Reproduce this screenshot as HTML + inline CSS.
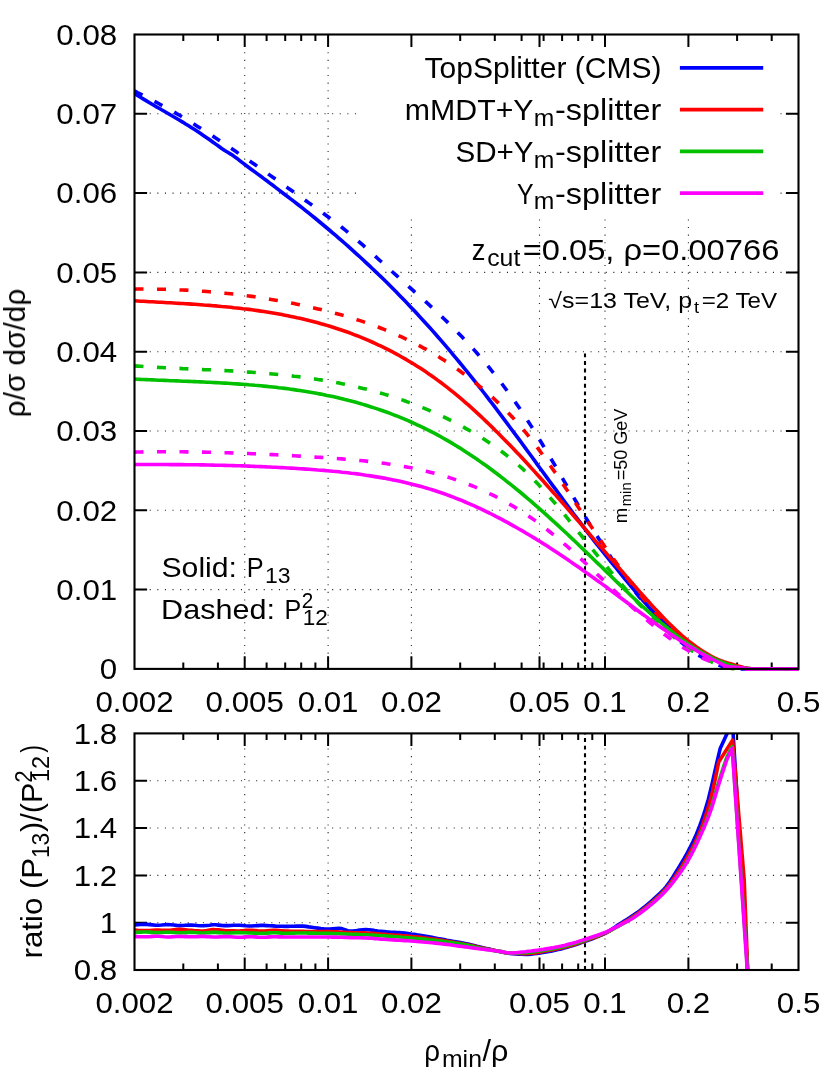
<!DOCTYPE html>
<html><head><meta charset="utf-8"><title>plot</title>
<style>html,body{margin:0;padding:0;background:#fff}svg{display:block}text{font-family:"Liberation Sans",sans-serif;fill:#000}</style></head><body>
<svg width="830" height="1076" viewBox="0 0 830 1076">
<rect width="830" height="1076" fill="#fff"/>
<defs><clipPath id="ct"><rect x="134.5" y="34.5" width="664" height="636.9"/></clipPath>
<clipPath id="cb"><rect x="134.5" y="733.4" width="664" height="236.6"/></clipPath></defs>
<g stroke="#000" stroke-width="1.1" stroke-dasharray="1.1 6.5" fill="none" shape-rendering="auto" opacity="0.85">
<path d="M244.7,668.9 V34.5"/>
<path d="M328.1,668.9 V34.5"/>
<path d="M411.4,668.9 V34.5"/>
<path d="M539.5,668.9 V34.5"/>
<path d="M605,668.9 V34.5"/>
<path d="M688.4,668.9 V34.5"/>
<path d="M134.5,589.6 H798.5"/>
<path d="M134.5,510.3 H798.5"/>
<path d="M134.5,431 H798.5"/>
<path d="M134.5,351.7 H798.5"/>
<path d="M134.5,272.4 H798.5"/>
<path d="M134.5,193.1 H798.5"/>
<path d="M134.5,113.8 H798.5"/>
<path d="M244.7,970 V733.4"/>
<path d="M328.1,970 V733.4"/>
<path d="M411.4,970 V733.4"/>
<path d="M539.5,970 V733.4"/>
<path d="M605,970 V733.4"/>
<path d="M688.4,970 V733.4"/>
<path d="M134.5,922.7 H798.5"/>
<path d="M134.5,875.4 H798.5"/>
<path d="M134.5,828 H798.5"/>
<path d="M134.5,780.7 H798.5"/>
</g>
<rect x="359" y="35.5" width="418" height="180.5" fill="#fff"/>
<g stroke="#000" stroke-width="2" fill="none">
<path d="M244.7,668.9 v-12.6 M244.7,34.5 v12.6 M328.1,668.9 v-12.6 M328.1,34.5 v12.6 M411.4,668.9 v-12.6 M411.4,34.5 v12.6 M539.5,668.9 v-12.6 M539.5,34.5 v12.6 M605,668.9 v-12.6 M605,34.5 v12.6 M688.4,668.9 v-12.6 M688.4,34.5 v12.6 M183.3,668.9 v-6.5 M183.3,34.5 v6.5 M217.9,668.9 v-6.5 M217.9,34.5 v6.5 M266.6,668.9 v-6.5 M266.6,34.5 v6.5 M285.2,668.9 v-6.5 M285.2,34.5 v6.5 M301.2,668.9 v-6.5 M301.2,34.5 v6.5 M315.4,668.9 v-6.5 M315.4,34.5 v6.5 M460.2,668.9 v-6.5 M460.2,34.5 v6.5 M494.8,668.9 v-6.5 M494.8,34.5 v6.5 M521.6,668.9 v-6.5 M521.6,34.5 v6.5 M543.6,668.9 v-6.5 M543.6,34.5 v6.5 M562.1,668.9 v-6.5 M562.1,34.5 v6.5 M578.2,668.9 v-6.5 M578.2,34.5 v6.5 M592.3,668.9 v-6.5 M592.3,34.5 v6.5 M737.1,668.9 v-6.5 M737.1,34.5 v6.5 M771.7,668.9 v-6.5 M771.7,34.5 v6.5 M134.5,589.6 h12.6 M798.5,589.6 h-12.6 M134.5,510.3 h12.6 M798.5,510.3 h-12.6 M134.5,431 h12.6 M798.5,431 h-12.6 M134.5,351.7 h12.6 M798.5,351.7 h-12.6 M134.5,272.4 h12.6 M798.5,272.4 h-12.6 M134.5,193.1 h12.6 M798.5,193.1 h-12.6 M134.5,113.8 h12.6 M798.5,113.8 h-12.6"/>
</g>
<g stroke="#000" stroke-width="2" fill="none">
<path d="M244.7,970 v-12.6 M244.7,733.4 v12.6 M328.1,970 v-12.6 M328.1,733.4 v12.6 M411.4,970 v-12.6 M411.4,733.4 v12.6 M539.5,970 v-12.6 M539.5,733.4 v12.6 M605,970 v-12.6 M605,733.4 v12.6 M688.4,970 v-12.6 M688.4,733.4 v12.6 M183.3,970 v-6.5 M183.3,733.4 v6.5 M217.9,970 v-6.5 M217.9,733.4 v6.5 M266.6,970 v-6.5 M266.6,733.4 v6.5 M285.2,970 v-6.5 M285.2,733.4 v6.5 M301.2,970 v-6.5 M301.2,733.4 v6.5 M315.4,970 v-6.5 M315.4,733.4 v6.5 M460.2,970 v-6.5 M460.2,733.4 v6.5 M494.8,970 v-6.5 M494.8,733.4 v6.5 M521.6,970 v-6.5 M521.6,733.4 v6.5 M543.6,970 v-6.5 M543.6,733.4 v6.5 M562.1,970 v-6.5 M562.1,733.4 v6.5 M578.2,970 v-6.5 M578.2,733.4 v6.5 M592.3,970 v-6.5 M592.3,733.4 v6.5 M737.1,970 v-6.5 M737.1,733.4 v6.5 M771.7,970 v-6.5 M771.7,733.4 v6.5 M134.5,922.7 h12.6 M798.5,922.7 h-12.6 M134.5,875.4 h12.6 M798.5,875.4 h-12.6 M134.5,828 h12.6 M798.5,828 h-12.6 M134.5,780.7 h12.6 M798.5,780.7 h-12.6"/>
</g>
<path d="M585,668.9 V352" stroke="#000" stroke-width="2.1" stroke-dasharray="3.9 3.7" fill="none"/>
<path d="M585,970 V733.4" stroke="#000" stroke-width="2.1" stroke-dasharray="3.9 3.7" fill="none"/>
<g fill="none" stroke-width="3.6" stroke-linejoin="round" clip-path="url(#ct)">
<path d="M134.5,93.7 L137.5,95.5 L140.5,97.3 L143.5,99.1 L146.5,100.9 L149.5,102.7 L152.5,104.5 L155.5,106.3 L158.6,108 L161.6,109.8 L164.6,111.5 L167.6,113.2 L170.6,115 L173.6,116.7 L176.6,118.5 L179.6,120.3 L182.6,122.1 L185.6,124 L188.6,125.8 L191.6,127.7 L194.6,129.6 L197.6,131.6 L200.6,133.6 L203.7,135.7 L206.7,137.7 L209.7,139.8 L212.7,142 L215.7,144.1 L218.7,146.3 L221.7,148.5 L224.7,150.5 L227.7,152.3 L230.7,154.1 L233.7,156.1 L236.7,158.2 L239.7,160.6 L242.7,162.9 L245.8,165.2 L248.8,167.5 L251.8,169.7 L254.8,171.9 L257.8,174.1 L260.8,176.3 L263.8,178.6 L266.8,180.8 L269.8,183.1 L272.8,185.3 L275.8,187.6 L278.8,189.9 L281.8,192.2 L284.8,194.5 L287.8,196.8 L290.9,199.1 L293.9,201.4 L296.9,203.7 L299.9,206 L302.9,208.4 L305.9,210.8 L308.9,213.2 L311.9,215.6 L314.9,218 L317.9,220.5 L320.9,223 L323.9,225.5 L326.9,228 L329.9,230.5 L332.9,233.1 L336,235.7 L339,238.3 L342,240.9 L345,243.5 L348,246.2 L351,248.9 L354,251.6 L357,254.3 L360,257 L363,259.8 L366,262.6 L369,265.4 L372,268.2 L375,271.1 L378,274 L381.1,276.9 L384.1,279.8 L387.1,282.8 L390.1,285.8 L393.1,288.8 L396.1,291.8 L399.1,294.9 L402.1,298 L405.1,301.1 L408.1,304.2 L411.1,307.4 L414.1,310.6 L417.1,313.8 L420.1,317.1 L423.2,320.4 L426.2,323.7 L429.2,327 L432.2,330.4 L435.2,333.8 L438.2,337.2 L441.2,340.7 L444.2,344.2 L447.2,347.7 L450.2,351.2 L453.2,354.8 L456.2,358.4 L459.2,362 L462.2,365.7 L465.2,369.3 L468.3,373.1 L471.3,376.8 L474.3,380.6 L477.3,384.4 L480.3,388.2 L483.3,392 L486.3,395.9 L489.3,399.8 L492.3,403.7 L495.3,407.7 L498.3,411.6 L501.3,415.6 L504.3,419.6 L507.3,423.6 L510.3,427.7 L513.4,431.8 L516.4,435.8 L519.4,439.9 L522.4,444 L525.4,448.1 L528.4,452.2 L531.4,456.3 L534.4,460.4 L537.4,464.6 L540.4,468.7 L543.4,472.8 L546.4,476.9 L549.4,481 L552.4,485.1 L555.5,489.2 L558.5,493.3 L561.5,497.4 L564.5,501.5 L567.5,505.6 L570.5,509.6 L573.5,513.7 L576.5,517.7 L579.5,521.7 L582.5,525.7 L585.5,529.6 L588.5,533.6 L591.5,537.5 L594.5,541.3 L597.5,545.2 L600.6,548.9 L603.6,552.7 L606.6,556.4 L609.6,560.1 L612.6,563.8 L615.6,567.4 L618.6,571.1 L621.6,574.8 L624.6,578.5 L627.6,582.2 L630.6,585.8 L633.6,589.4 L636.6,593 L639.6,596.5 L642.6,600 L645.7,603.5 L648.7,606.9 L651.7,610.1 L654.7,613.3 L657.7,616.4 L660.7,619.4 L663.7,622.4 L666.7,625.2 L669.7,628 L672.7,630.7 L675.7,633.3 L678.7,635.8 L681.7,638.2 L684.7,640.5 L687.7,642.8 L690.8,644.9 L693.8,647 L696.8,649 L699.8,650.9 L702.8,652.7 L705.8,654.4 L708.8,656 L711.8,657.6 L714.8,659.1 L717.8,660.4 L720.8,661.7 L723.8,662.9 L726.8,664.1 L729.8,665.1 L732.9,665.9 L735.9,666.7 L738.9,667.5 L741.9,668.1 L744.9,668.4 L747.9,668.5 L750.9,668.7 L753.9,668.8 L756.9,668.8 L759.9,668.8 L762.9,668.9 L765.9,668.9 L768.9,668.9 L771.9,668.9 L774.9,668.9 L778,668.9 L781,668.9 L784,668.9 L787,668.9 L790,668.9 L793,668.9 L796,668.9 L799,668.9" stroke="#0000ff"/>
<path d="M134.5,90.9 L137.5,92.5 L140.5,94 L143.5,95.6 L146.5,97.1 L149.5,98.7 L152.5,100.3 L155.5,101.9 L158.6,103.5 L161.6,105.2 L164.6,106.8 L167.6,108.5 L170.6,110.1 L173.6,111.8 L176.6,113.6 L179.6,115.3 L182.6,117.1 L185.6,118.9 L188.6,120.8 L191.6,122.6 L194.6,124.5 L197.6,126.4 L200.6,128.3 L203.7,130.2 L206.7,132.1 L209.7,134.1 L212.7,136.1 L215.7,138.1 L218.7,140 L221.7,142 L224.7,144 L227.7,146.1 L230.7,148.1 L233.7,150.1 L236.7,152.1 L239.7,154.2 L242.7,156.2 L245.8,158.3 L248.8,160.4 L251.8,162.5 L254.8,164.5 L257.8,166.6 L260.8,168.7 L263.8,170.8 L266.8,172.9 L269.8,175.1 L272.8,177.2 L275.8,179.3 L278.8,181.4 L281.8,183.6 L284.8,185.7 L287.8,187.9 L290.9,190 L293.9,192.2 L296.9,194.3 L299.9,196.4 L302.9,198.6 L305.9,200.8 L308.9,202.9 L311.9,205 L314.9,207.2 L317.9,209.4 L320.9,211.5 L323.9,213.7 L326.9,216 L329.9,218.2 L332.9,220.5 L336,222.8 L339,225.1 L342,227.5 L345,229.9 L348,232.3 L351,234.9 L354,237.4 L357,240 L360,242.6 L363,245.2 L366,247.9 L369,250.6 L372,253.3 L375,256 L378,258.8 L381.1,261.5 L384.1,264.3 L387.1,267 L390.1,269.8 L393.1,272.5 L396.1,275.2 L399.1,277.9 L402.1,280.6 L405.1,283.3 L408.1,286 L411.1,288.7 L414.1,291.4 L417.1,294 L420.1,296.7 L423.2,299.5 L426.2,302.2 L429.2,304.9 L432.2,307.7 L435.2,310.5 L438.2,313.3 L441.2,316.1 L444.2,319 L447.2,321.9 L450.2,324.9 L453.2,327.9 L456.2,330.9 L459.2,334 L462.2,337.1 L465.2,340.3 L468.3,343.5 L471.3,346.8 L474.3,350.1 L477.3,353.5 L480.3,357 L483.3,360.5 L486.3,364.1 L489.3,367.7 L492.3,371.5 L495.3,375.2 L498.3,379.1 L501.3,383 L504.3,387 L507.3,391.1 L510.3,395.2 L513.4,399.4 L516.4,403.7 L519.4,408.1 L522.4,412.6 L525.4,417.1 L528.4,421.7 L531.4,426.4 L534.4,431.2 L537.4,436.1 L540.4,441 L543.4,446 L546.4,451 L549.4,456.1 L552.4,461.2 L555.5,466.3 L558.5,471.5 L561.5,476.6 L564.5,481.8 L567.5,486.9 L570.5,492.1 L573.5,497.2 L576.5,502.2 L579.5,507.3 L582.5,512.3 L585.5,517.2 L588.5,522.2 L591.5,527 L594.5,531.9 L597.5,536.7 L600.6,541.4 L603.6,546.1 L606.6,550.7 L609.6,555.3 L612.6,559.7 L615.6,564.2 L618.6,568.5 L621.6,572.9 L624.6,577.1 L627.6,581.3 L630.6,585.5 L633.6,589.6 L636.6,593.6 L639.6,597.5 L642.6,601.3 L645.7,605 L648.7,608.6 L651.7,612.2 L654.7,615.7 L657.7,619.1 L660.7,622.4 L663.7,625.6 L666.7,628.7 L669.7,631.7 L672.7,634.6 L675.7,637.5 L678.7,640.2 L681.7,642.7 L684.7,645.2 L687.7,647.6 L690.8,649.9 L693.8,652 L696.8,654.1 L699.8,655.9 L702.8,657.6 L705.8,659.2 L708.8,660.7 L711.8,662.2 L714.8,663.5 L717.8,664.7 L720.8,665.9 L723.8,667 L726.8,667.8 L729.8,668.2 L732.9,668.5 L735.9,668.7 L738.9,668.8 L741.9,668.9 L744.9,668.9 L747.9,668.9 L750.9,668.9 L753.9,668.9 L756.9,668.9 L759.9,668.9 L762.9,668.9 L765.9,668.9 L768.9,668.9 L771.9,668.9 L774.9,668.9 L778,668.9 L781,668.9 L784,668.9 L787,668.9 L790,668.9 L793,668.9 L796,668.9 L799,668.9" stroke="#0000ff" stroke-dasharray="9 13.5"/>
<path d="M134.5,300.8 L137.5,301 L140.5,301.2 L143.5,301.3 L146.5,301.5 L149.5,301.7 L152.5,301.8 L155.5,302 L158.6,302.2 L161.6,302.3 L164.6,302.5 L167.6,302.7 L170.6,302.8 L173.6,303 L176.6,303.2 L179.6,303.4 L182.6,303.5 L185.6,303.7 L188.6,303.9 L191.6,304.1 L194.6,304.3 L197.6,304.5 L200.6,304.7 L203.7,305 L206.7,305.2 L209.7,305.4 L212.7,305.7 L215.7,305.9 L218.7,306.2 L221.7,306.5 L224.7,306.7 L227.7,307 L230.7,307.3 L233.7,307.7 L236.7,308 L239.7,308.3 L242.7,308.7 L245.8,309 L248.8,309.4 L251.8,309.8 L254.8,310.2 L257.8,310.6 L260.8,311.1 L263.8,311.5 L266.8,312 L269.8,312.5 L272.8,313 L275.8,313.5 L278.8,314 L281.8,314.6 L284.8,315.2 L287.8,315.8 L290.9,316.4 L293.9,317 L296.9,317.7 L299.9,318.3 L302.9,319 L305.9,319.7 L308.9,320.5 L311.9,321.2 L314.9,322 L317.9,322.8 L320.9,323.7 L323.9,324.5 L326.9,325.4 L329.9,326.3 L332.9,327.2 L336,328.2 L339,329.2 L342,330.2 L345,331.2 L348,332.3 L351,333.4 L354,334.6 L357,335.7 L360,336.9 L363,338.1 L366,339.4 L369,340.7 L372,342 L375,343.4 L378,344.8 L381.1,346.2 L384.1,347.6 L387.1,349.1 L390.1,350.7 L393.1,352.2 L396.1,353.9 L399.1,355.5 L402.1,357.2 L405.1,358.9 L408.1,360.7 L411.1,362.5 L414.1,364.3 L417.1,366.2 L420.1,368.1 L423.2,370.1 L426.2,372.1 L429.2,374.2 L432.2,376.2 L435.2,378.4 L438.2,380.6 L441.2,382.8 L444.2,385.1 L447.2,387.4 L450.2,389.8 L453.2,392.2 L456.2,394.7 L459.2,397.2 L462.2,399.7 L465.2,402.3 L468.3,404.9 L471.3,407.6 L474.3,410.3 L477.3,413.1 L480.3,415.9 L483.3,418.7 L486.3,421.6 L489.3,424.5 L492.3,427.4 L495.3,430.4 L498.3,433.3 L501.3,436.4 L504.3,439.4 L507.3,442.5 L510.3,445.6 L513.4,448.7 L516.4,451.9 L519.4,455.1 L522.4,458.3 L525.4,461.5 L528.4,464.8 L531.4,468.1 L534.4,471.4 L537.4,474.7 L540.4,478 L543.4,481.3 L546.4,484.7 L549.4,488.1 L552.4,491.5 L555.5,494.9 L558.5,498.3 L561.5,501.7 L564.5,505.1 L567.5,508.6 L570.5,512 L573.5,515.5 L576.5,519 L579.5,522.4 L582.5,525.9 L585.5,529.4 L588.5,532.8 L591.5,536.3 L594.5,539.8 L597.5,543.3 L600.6,546.7 L603.6,550.2 L606.6,553.7 L609.6,557.1 L612.6,560.6 L615.6,564 L618.6,567.5 L621.6,570.9 L624.6,574.4 L627.6,577.9 L630.6,581.3 L633.6,584.7 L636.6,588.2 L639.6,591.6 L642.6,595 L645.7,598.4 L648.7,601.8 L651.7,605.1 L654.7,608.4 L657.7,611.6 L660.7,614.8 L663.7,618 L666.7,621.1 L669.7,624 L672.7,626.9 L675.7,629.8 L678.7,632.6 L681.7,635.3 L684.7,637.8 L687.7,640.3 L690.8,642.7 L693.8,645 L696.8,647.2 L699.8,649.3 L702.8,651.2 L705.8,653.1 L708.8,654.9 L711.8,656.5 L714.8,658.1 L717.8,659.4 L720.8,660.6 L723.8,661.7 L726.8,662.6 L729.8,663.6 L732.9,664.5 L735.9,665.4 L738.9,666.3 L741.9,667.1 L744.9,667.9 L747.9,668.4 L750.9,668.6 L753.9,668.7 L756.9,668.8 L759.9,668.8 L762.9,668.9 L765.9,668.9 L768.9,668.9 L771.9,668.9 L774.9,668.9 L778,668.9 L781,668.9 L784,668.9 L787,668.9 L790,668.9 L793,668.9 L796,668.9 L799,668.9" stroke="#ff0000"/>
<path d="M134.5,289.1 L137.5,289 L140.5,289 L143.5,289 L146.5,289.1 L149.5,289.1 L152.5,289.1 L155.5,289.2 L158.6,289.2 L161.6,289.3 L164.6,289.3 L167.6,289.4 L170.6,289.5 L173.6,289.6 L176.6,289.7 L179.6,289.9 L182.6,290 L185.6,290.1 L188.6,290.3 L191.6,290.5 L194.6,290.7 L197.6,290.9 L200.6,291.1 L203.7,291.3 L206.7,291.5 L209.7,291.8 L212.7,292 L215.7,292.3 L218.7,292.6 L221.7,292.9 L224.7,293.2 L227.7,293.5 L230.7,293.8 L233.7,294.1 L236.7,294.5 L239.7,294.8 L242.7,295.2 L245.8,295.6 L248.8,296 L251.8,296.4 L254.8,296.8 L257.8,297.3 L260.8,297.7 L263.8,298.2 L266.8,298.7 L269.8,299.2 L272.8,299.7 L275.8,300.2 L278.8,300.7 L281.8,301.3 L284.8,301.8 L287.8,302.4 L290.9,303 L293.9,303.6 L296.9,304.2 L299.9,304.8 L302.9,305.5 L305.9,306.1 L308.9,306.8 L311.9,307.5 L314.9,308.2 L317.9,308.9 L320.9,309.6 L323.9,310.3 L326.9,311.1 L329.9,311.9 L332.9,312.6 L336,313.5 L339,314.3 L342,315.1 L345,316 L348,316.9 L351,317.8 L354,318.7 L357,319.7 L360,320.6 L363,321.6 L366,322.7 L369,323.7 L372,324.8 L375,325.9 L378,327 L381.1,328.2 L384.1,329.4 L387.1,330.6 L390.1,331.8 L393.1,333.1 L396.1,334.4 L399.1,335.8 L402.1,337.2 L405.1,338.6 L408.1,340 L411.1,341.5 L414.1,343 L417.1,344.6 L420.1,346.2 L423.2,347.8 L426.2,349.4 L429.2,351.1 L432.2,352.9 L435.2,354.7 L438.2,356.5 L441.2,358.4 L444.2,360.3 L447.2,362.2 L450.2,364.2 L453.2,366.3 L456.2,368.4 L459.2,370.5 L462.2,372.7 L465.2,374.9 L468.3,377.2 L471.3,379.5 L474.3,381.9 L477.3,384.3 L480.3,386.8 L483.3,389.3 L486.3,391.9 L489.3,394.5 L492.3,397.2 L495.3,400 L498.3,402.9 L501.3,405.8 L504.3,408.8 L507.3,411.9 L510.3,415 L513.4,418.3 L516.4,421.6 L519.4,425.1 L522.4,428.6 L525.4,432.2 L528.4,435.9 L531.4,439.8 L534.4,443.7 L537.4,447.7 L540.4,451.7 L543.4,455.9 L546.4,460.1 L549.4,464.4 L552.4,468.7 L555.5,473 L558.5,477.4 L561.5,481.9 L564.5,486.4 L567.5,490.8 L570.5,495.4 L573.5,499.9 L576.5,504.4 L579.5,509 L582.5,513.5 L585.5,518 L588.5,522.6 L591.5,527.1 L594.5,531.5 L597.5,536 L600.6,540.4 L603.6,544.8 L606.6,549.2 L609.6,553.5 L612.6,557.7 L615.6,561.9 L618.6,566.1 L621.6,570.2 L624.6,574.3 L627.6,578.3 L630.6,582.3 L633.6,586.2 L636.6,590 L639.6,593.8 L642.6,597.5 L645.7,601.2 L648.7,604.8 L651.7,608.3 L654.7,611.7 L657.7,615.1 L660.7,618.4 L663.7,621.6 L666.7,624.8 L669.7,627.8 L672.7,630.8 L675.7,633.7 L678.7,636.5 L681.7,639.2 L684.7,641.8 L687.7,644.4 L690.8,646.8 L693.8,649.1 L696.8,651.4 L699.8,653.5 L702.8,655.6 L705.8,657.5 L708.8,659.3 L711.8,661.1 L714.8,662.8 L717.8,664.3 L720.8,665.5 L723.8,666.6 L726.8,667.6 L729.8,668.2 L732.9,668.4 L735.9,668.7 L738.9,668.8 L741.9,668.8 L744.9,668.9 L747.9,668.9 L750.9,668.9 L753.9,668.9 L756.9,668.9 L759.9,668.9 L762.9,668.9 L765.9,668.9 L768.9,668.9 L771.9,668.9 L774.9,668.9 L778,668.9 L781,668.9 L784,668.9 L787,668.9 L790,668.9 L793,668.9 L796,668.9 L799,668.9" stroke="#ff0000" stroke-dasharray="9 13.5"/>
<path d="M134.5,379 L137.5,379.2 L140.5,379.4 L143.5,379.5 L146.5,379.6 L149.5,379.8 L152.5,379.9 L155.5,380 L158.6,380.2 L161.6,380.3 L164.6,380.4 L167.6,380.5 L170.6,380.7 L173.6,380.8 L176.6,380.9 L179.6,381 L182.6,381.2 L185.6,381.3 L188.6,381.4 L191.6,381.5 L194.6,381.6 L197.6,381.8 L200.6,381.9 L203.7,382 L206.7,382.2 L209.7,382.3 L212.7,382.5 L215.7,382.6 L218.7,382.8 L221.7,383 L224.7,383.1 L227.7,383.3 L230.7,383.5 L233.7,383.7 L236.7,383.9 L239.7,384.1 L242.7,384.3 L245.8,384.5 L248.8,384.8 L251.8,385 L254.8,385.3 L257.8,385.5 L260.8,385.8 L263.8,386.1 L266.8,386.4 L269.8,386.7 L272.8,387 L275.8,387.3 L278.8,387.7 L281.8,388 L284.8,388.4 L287.8,388.8 L290.9,389.2 L293.9,389.6 L296.9,390.1 L299.9,390.5 L302.9,391 L305.9,391.5 L308.9,392 L311.9,392.5 L314.9,393 L317.9,393.6 L320.9,394.1 L323.9,394.7 L326.9,395.4 L329.9,396 L332.9,396.6 L336,397.3 L339,398 L342,398.7 L345,399.5 L348,400.2 L351,401 L354,401.8 L357,402.6 L360,403.5 L363,404.4 L366,405.3 L369,406.2 L372,407.2 L375,408.1 L378,409.1 L381.1,410.2 L384.1,411.2 L387.1,412.3 L390.1,413.4 L393.1,414.6 L396.1,415.7 L399.1,416.9 L402.1,418.2 L405.1,419.4 L408.1,420.7 L411.1,422 L414.1,423.4 L417.1,424.8 L420.1,426.2 L423.2,427.6 L426.2,429.1 L429.2,430.6 L432.2,432.2 L435.2,433.7 L438.2,435.3 L441.2,437 L444.2,438.7 L447.2,440.4 L450.2,442.1 L453.2,443.9 L456.2,445.8 L459.2,447.6 L462.2,449.5 L465.2,451.4 L468.3,453.4 L471.3,455.4 L474.3,457.4 L477.3,459.5 L480.3,461.6 L483.3,463.7 L486.3,465.8 L489.3,468 L492.3,470.3 L495.3,472.5 L498.3,474.8 L501.3,477.1 L504.3,479.4 L507.3,481.8 L510.3,484.2 L513.4,486.6 L516.4,489.1 L519.4,491.5 L522.4,494 L525.4,496.6 L528.4,499.1 L531.4,501.7 L534.4,504.3 L537.4,506.9 L540.4,509.6 L543.4,512.2 L546.4,514.9 L549.4,517.6 L552.4,520.4 L555.5,523.1 L558.5,525.9 L561.5,528.7 L564.5,531.5 L567.5,534.3 L570.5,537.1 L573.5,540 L576.5,542.8 L579.5,545.7 L582.5,548.6 L585.5,551.5 L588.5,554.4 L591.5,557.3 L594.5,560.2 L597.5,563.1 L600.6,566 L603.6,568.9 L606.6,571.9 L609.6,574.8 L612.6,577.8 L615.6,580.7 L618.6,583.6 L621.6,586.5 L624.6,589.4 L627.6,592.3 L630.6,595.2 L633.6,598 L636.6,600.9 L639.6,603.7 L642.6,606.5 L645.7,609.2 L648.7,611.9 L651.7,614.6 L654.7,617.3 L657.7,619.9 L660.7,622.5 L663.7,625 L666.7,627.5 L669.7,629.9 L672.7,632.3 L675.7,634.6 L678.7,636.9 L681.7,639.1 L684.7,641.3 L687.7,643.4 L690.8,645.4 L693.8,647.4 L696.8,649.3 L699.8,651.1 L702.8,652.8 L705.8,654.5 L708.8,656.1 L711.8,657.7 L714.8,659.1 L717.8,660.4 L720.8,661.6 L723.8,662.8 L726.8,663.9 L729.8,664.9 L732.9,665.7 L735.9,666.6 L738.9,667.4 L741.9,668 L744.9,668.4 L747.9,668.5 L750.9,668.7 L753.9,668.8 L756.9,668.8 L759.9,668.8 L762.9,668.9 L765.9,668.9 L768.9,668.9 L771.9,668.9 L774.9,668.9 L778,668.9 L781,668.9 L784,668.9 L787,668.9 L790,668.9 L793,668.9 L796,668.9 L799,668.9" stroke="#00c000"/>
<path d="M134.5,365.9 L137.5,366.1 L140.5,366.3 L143.5,366.5 L146.5,366.7 L149.5,366.9 L152.5,367 L155.5,367.2 L158.6,367.4 L161.6,367.5 L164.6,367.7 L167.6,367.8 L170.6,368 L173.6,368.1 L176.6,368.3 L179.6,368.4 L182.6,368.6 L185.6,368.7 L188.6,368.9 L191.6,369 L194.6,369.1 L197.6,369.3 L200.6,369.4 L203.7,369.6 L206.7,369.7 L209.7,369.8 L212.7,370 L215.7,370.1 L218.7,370.3 L221.7,370.5 L224.7,370.6 L227.7,370.8 L230.7,370.9 L233.7,371.1 L236.7,371.3 L239.7,371.5 L242.7,371.7 L245.8,371.9 L248.8,372.1 L251.8,372.3 L254.8,372.5 L257.8,372.7 L260.8,373 L263.8,373.2 L266.8,373.5 L269.8,373.7 L272.8,374 L275.8,374.3 L278.8,374.6 L281.8,374.9 L284.8,375.2 L287.8,375.5 L290.9,375.8 L293.9,376.2 L296.9,376.5 L299.9,376.9 L302.9,377.3 L305.9,377.7 L308.9,378.1 L311.9,378.6 L314.9,379 L317.9,379.5 L320.9,379.9 L323.9,380.4 L326.9,380.9 L329.9,381.4 L332.9,382 L336,382.5 L339,383.1 L342,383.7 L345,384.3 L348,385 L351,385.6 L354,386.3 L357,387 L360,387.7 L363,388.4 L366,389.1 L369,389.9 L372,390.7 L375,391.5 L378,392.4 L381.1,393.2 L384.1,394.1 L387.1,395 L390.1,396 L393.1,396.9 L396.1,397.9 L399.1,398.9 L402.1,399.9 L405.1,401 L408.1,402.1 L411.1,403.2 L414.1,404.3 L417.1,405.5 L420.1,406.7 L423.2,407.9 L426.2,409.1 L429.2,410.4 L432.2,411.7 L435.2,413.1 L438.2,414.4 L441.2,415.8 L444.2,417.2 L447.2,418.7 L450.2,420.2 L453.2,421.7 L456.2,423.2 L459.2,424.8 L462.2,426.4 L465.2,428.1 L468.3,429.8 L471.3,431.5 L474.3,433.3 L477.3,435.1 L480.3,436.9 L483.3,438.8 L486.3,440.7 L489.3,442.7 L492.3,444.8 L495.3,446.9 L498.3,449 L501.3,451.3 L504.3,453.5 L507.3,455.9 L510.3,458.3 L513.4,460.8 L516.4,463.3 L519.4,466 L522.4,468.7 L525.4,471.5 L528.4,474.3 L531.4,477.3 L534.4,480.3 L537.4,483.4 L540.4,486.7 L543.4,490 L546.4,493.4 L549.4,496.8 L552.4,500.3 L555.5,503.8 L558.5,507.4 L561.5,511 L564.5,514.7 L567.5,518.4 L570.5,522.1 L573.5,525.8 L576.5,529.5 L579.5,533.3 L582.5,537 L585.5,540.7 L588.5,544.5 L591.5,548.2 L594.5,551.9 L597.5,555.6 L600.6,559.3 L603.6,562.9 L606.6,566.6 L609.6,570.2 L612.6,573.8 L615.6,577.3 L618.6,580.9 L621.6,584.3 L624.6,587.8 L627.6,591.2 L630.6,594.6 L633.6,597.9 L636.6,601.2 L639.6,604.4 L642.6,607.6 L645.7,610.8 L648.7,613.8 L651.7,616.9 L654.7,619.8 L657.7,622.7 L660.7,625.6 L663.7,628.3 L666.7,631.1 L669.7,633.7 L672.7,636.2 L675.7,638.7 L678.7,641.1 L681.7,643.5 L684.7,645.8 L687.7,647.9 L690.8,650 L693.8,651.9 L696.8,653.8 L699.8,655.7 L702.8,657.4 L705.8,659 L708.8,660.5 L711.8,662 L714.8,663.3 L717.8,664.5 L720.8,665.6 L723.8,666.6 L726.8,667.5 L729.8,668.2 L732.9,668.5 L735.9,668.7 L738.9,668.8 L741.9,668.8 L744.9,668.9 L747.9,668.9 L750.9,668.9 L753.9,668.9 L756.9,668.9 L759.9,668.9 L762.9,668.9 L765.9,668.9 L768.9,668.9 L771.9,668.9 L774.9,668.9 L778,668.9 L781,668.9 L784,668.9 L787,668.9 L790,668.9 L793,668.9 L796,668.9 L799,668.9" stroke="#00c000" stroke-dasharray="9 13.5"/>
<path d="M134.5,464.5 L137.5,464.5 L140.5,464.5 L143.5,464.5 L146.5,464.5 L149.5,464.5 L152.5,464.5 L155.5,464.5 L158.6,464.5 L161.6,464.5 L164.6,464.5 L167.6,464.5 L170.6,464.6 L173.6,464.6 L176.6,464.6 L179.6,464.6 L182.6,464.6 L185.6,464.7 L188.6,464.7 L191.6,464.7 L194.6,464.8 L197.6,464.8 L200.6,464.9 L203.7,464.9 L206.7,465 L209.7,465 L212.7,465.1 L215.7,465.2 L218.7,465.2 L221.7,465.3 L224.7,465.4 L227.7,465.5 L230.7,465.5 L233.7,465.6 L236.7,465.7 L239.7,465.8 L242.7,465.9 L245.8,466 L248.8,466.1 L251.8,466.2 L254.8,466.4 L257.8,466.5 L260.8,466.6 L263.8,466.7 L266.8,466.9 L269.8,467 L272.8,467.2 L275.8,467.3 L278.8,467.5 L281.8,467.6 L284.8,467.8 L287.8,468 L290.9,468.1 L293.9,468.3 L296.9,468.5 L299.9,468.7 L302.9,468.9 L305.9,469.1 L308.9,469.3 L311.9,469.5 L314.9,469.7 L317.9,470 L320.9,470.2 L323.9,470.4 L326.9,470.7 L329.9,471 L332.9,471.3 L336,471.5 L339,471.8 L342,472.2 L345,472.5 L348,472.8 L351,473.2 L354,473.5 L357,473.9 L360,474.3 L363,474.7 L366,475.2 L369,475.6 L372,476.1 L375,476.6 L378,477.1 L381.1,477.6 L384.1,478.1 L387.1,478.7 L390.1,479.3 L393.1,479.9 L396.1,480.5 L399.1,481.1 L402.1,481.8 L405.1,482.5 L408.1,483.2 L411.1,483.9 L414.1,484.7 L417.1,485.5 L420.1,486.3 L423.2,487.1 L426.2,488 L429.2,488.9 L432.2,489.8 L435.2,490.8 L438.2,491.8 L441.2,492.8 L444.2,493.8 L447.2,494.9 L450.2,496 L453.2,497.1 L456.2,498.3 L459.2,499.5 L462.2,500.7 L465.2,502 L468.3,503.3 L471.3,504.6 L474.3,505.9 L477.3,507.3 L480.3,508.7 L483.3,510.1 L486.3,511.6 L489.3,513 L492.3,514.5 L495.3,516.1 L498.3,517.6 L501.3,519.2 L504.3,520.8 L507.3,522.4 L510.3,524.1 L513.4,525.8 L516.4,527.5 L519.4,529.2 L522.4,530.9 L525.4,532.7 L528.4,534.5 L531.4,536.3 L534.4,538.1 L537.4,540 L540.4,541.8 L543.4,543.7 L546.4,545.6 L549.4,547.6 L552.4,549.5 L555.5,551.5 L558.5,553.5 L561.5,555.5 L564.5,557.5 L567.5,559.5 L570.5,561.6 L573.5,563.7 L576.5,565.7 L579.5,567.8 L582.5,570 L585.5,572.1 L588.5,574.2 L591.5,576.4 L594.5,578.5 L597.5,580.7 L600.6,582.9 L603.6,585.1 L606.6,587.3 L609.6,589.6 L612.6,591.8 L615.6,594 L618.6,596.3 L621.6,598.5 L624.6,600.8 L627.6,603 L630.6,605.3 L633.6,607.5 L636.6,609.7 L639.6,612 L642.6,614.2 L645.7,616.4 L648.7,618.6 L651.7,620.8 L654.7,622.9 L657.7,625.1 L660.7,627.2 L663.7,629.3 L666.7,631.4 L669.7,633.5 L672.7,635.5 L675.7,637.5 L678.7,639.5 L681.7,641.5 L684.7,643.4 L687.7,645.3 L690.8,647.1 L693.8,648.9 L696.8,650.7 L699.8,652.5 L702.8,654.2 L705.8,655.8 L708.8,657.4 L711.8,659 L714.8,660.5 L717.8,662 L720.8,663.6 L723.8,665.2 L726.8,666.4 L729.8,666.9 L732.9,667.1 L735.9,667.3 L738.9,667.5 L741.9,667.9 L744.9,668.4 L747.9,668.7 L750.9,668.9 L753.9,668.9 L756.9,668.9 L759.9,668.9 L762.9,668.9 L765.9,668.9 L768.9,668.9 L771.9,668.9 L774.9,668.9 L778,668.9 L781,668.9 L784,668.9 L787,668.9 L790,668.9 L793,668.9 L796,668.9 L799,668.9" stroke="#ff00ff"/>
<path d="M134.5,452.1 L137.5,452 L140.5,452 L143.5,451.9 L146.5,451.9 L149.5,451.8 L152.5,451.8 L155.5,451.8 L158.6,451.8 L161.6,451.8 L164.6,451.8 L167.6,451.8 L170.6,451.8 L173.6,451.8 L176.6,451.8 L179.6,451.8 L182.6,451.8 L185.6,451.9 L188.6,451.9 L191.6,451.9 L194.6,452 L197.6,452 L200.6,452.1 L203.7,452.1 L206.7,452.2 L209.7,452.3 L212.7,452.3 L215.7,452.4 L218.7,452.5 L221.7,452.6 L224.7,452.7 L227.7,452.8 L230.7,452.9 L233.7,453 L236.7,453.1 L239.7,453.2 L242.7,453.3 L245.8,453.4 L248.8,453.5 L251.8,453.7 L254.8,453.8 L257.8,453.9 L260.8,454.1 L263.8,454.2 L266.8,454.3 L269.8,454.5 L272.8,454.6 L275.8,454.8 L278.8,454.9 L281.8,455.1 L284.8,455.3 L287.8,455.4 L290.9,455.6 L293.9,455.8 L296.9,456 L299.9,456.1 L302.9,456.3 L305.9,456.5 L308.9,456.7 L311.9,456.9 L314.9,457.1 L317.9,457.3 L320.9,457.4 L323.9,457.6 L326.9,457.9 L329.9,458.1 L332.9,458.3 L336,458.5 L339,458.7 L342,458.9 L345,459.2 L348,459.4 L351,459.7 L354,460 L357,460.2 L360,460.5 L363,460.8 L366,461.1 L369,461.5 L372,461.8 L375,462.2 L378,462.5 L381.1,462.9 L384.1,463.3 L387.1,463.8 L390.1,464.2 L393.1,464.7 L396.1,465.1 L399.1,465.6 L402.1,466.2 L405.1,466.7 L408.1,467.3 L411.1,467.8 L414.1,468.5 L417.1,469.1 L420.1,469.8 L423.2,470.5 L426.2,471.2 L429.2,471.9 L432.2,472.7 L435.2,473.5 L438.2,474.3 L441.2,475.1 L444.2,476 L447.2,477 L450.2,477.9 L453.2,478.9 L456.2,479.9 L459.2,480.9 L462.2,482 L465.2,483.2 L468.3,484.3 L471.3,485.5 L474.3,486.7 L477.3,488 L480.3,489.3 L483.3,490.6 L486.3,492 L489.3,493.5 L492.3,494.9 L495.3,496.4 L498.3,498 L501.3,499.6 L504.3,501.2 L507.3,502.9 L510.3,504.6 L513.4,506.4 L516.4,508.2 L519.4,510.1 L522.4,512 L525.4,514 L528.4,516 L531.4,518 L534.4,520.1 L537.4,522.3 L540.4,524.5 L543.4,526.8 L546.4,529.1 L549.4,531.5 L552.4,533.9 L555.5,536.4 L558.5,538.9 L561.5,541.5 L564.5,544.1 L567.5,546.7 L570.5,549.4 L573.5,552.1 L576.5,554.8 L579.5,557.6 L582.5,560.4 L585.5,563.2 L588.5,566 L591.5,568.9 L594.5,571.7 L597.5,574.6 L600.6,577.4 L603.6,580.3 L606.6,583.1 L609.6,586 L612.6,588.9 L615.6,591.7 L618.6,594.5 L621.6,597.3 L624.6,600.1 L627.6,602.9 L630.6,605.7 L633.6,608.4 L636.6,611.1 L639.6,613.8 L642.6,616.4 L645.7,619 L648.7,621.6 L651.7,624.1 L654.7,626.6 L657.7,629.1 L660.7,631.5 L663.7,633.8 L666.7,636.1 L669.7,638.3 L672.7,640.5 L675.7,642.6 L678.7,644.7 L681.7,646.6 L684.7,648.5 L687.7,650.3 L690.8,652.1 L693.8,653.8 L696.8,655.4 L699.8,657 L702.8,658.4 L705.8,659.7 L708.8,660.9 L711.8,662 L714.8,663.1 L717.8,664 L720.8,665 L723.8,666 L726.8,667.1 L729.8,668 L732.9,668.4 L735.9,668.6 L738.9,668.7 L741.9,668.8 L744.9,668.9 L747.9,668.9 L750.9,668.9 L753.9,668.9 L756.9,668.9 L759.9,668.9 L762.9,668.9 L765.9,668.9 L768.9,668.9 L771.9,668.9 L774.9,668.9 L778,668.9 L781,668.9 L784,668.9 L787,668.9 L790,668.9 L793,668.9 L796,668.9 L799,668.9" stroke="#ff00ff" stroke-dasharray="9 13.5"/>
</g>
<path d="M679.9,67.9 H763.2" stroke="#0000ff" stroke-width="3.7" fill="none"/>
<path d="M679.9,109.7 H763.2" stroke="#ff0000" stroke-width="3.7" fill="none"/>
<path d="M679.9,151.4 H763.2" stroke="#00c000" stroke-width="3.7" fill="none"/>
<path d="M679.9,193.2 H763.2" stroke="#ff00ff" stroke-width="3.7" fill="none"/>
<g fill="none" stroke-width="3.6" stroke-linejoin="round" clip-path="url(#cb)">
<path d="M134.5,925 L137.5,924.7 L140.5,924.5 L143.5,924.4 L146.5,924.4 L149.5,924.6 L152.5,924.9 L155.5,925.2 L158.5,925.2 L161.5,925 L164.5,924.7 L167.5,924.6 L170.5,924.7 L173.6,925 L176.6,925.4 L179.6,925.6 L182.6,925.5 L185.6,925.3 L188.6,925.1 L191.6,925 L194.6,925.2 L197.6,925.5 L200.6,925.7 L203.6,925.8 L206.6,925.5 L209.6,925.2 L212.6,924.8 L215.6,924.8 L218.6,925.1 L221.6,925.4 L224.6,925.6 L227.6,925.6 L230.6,925.5 L233.6,925.3 L236.6,925.2 L239.6,925.2 L242.6,925.5 L245.7,925.8 L248.7,926 L251.7,926 L254.7,925.8 L257.7,925.6 L260.7,925.4 L263.7,925.4 L266.7,925.6 L269.7,925.8 L272.7,925.9 L275.7,926.1 L278.7,926.2 L281.7,926.3 L284.7,926.4 L287.7,926.4 L290.7,926.3 L293.7,926.2 L296.7,926.1 L299.7,926 L302.7,926.1 L305.7,926.4 L308.7,926.9 L311.7,927.3 L314.7,927.7 L317.8,928.1 L320.8,928.5 L323.8,928.8 L326.8,929 L329.8,929 L332.8,928.8 L335.8,928.6 L338.8,928.4 L341.8,928.6 L344.8,929.6 L347.8,930.7 L350.8,931 L353.8,930.8 L356.8,930.5 L359.8,930.1 L362.8,929.7 L365.8,929.6 L368.8,929.7 L371.8,930.1 L374.8,930.6 L377.8,931 L380.8,931.3 L383.8,931.6 L386.8,931.9 L389.8,932.1 L392.9,932.2 L395.9,932.4 L398.9,932.5 L401.9,932.8 L404.9,933.1 L407.9,933.5 L410.9,934 L413.9,934.4 L416.9,934.9 L419.9,935.3 L422.9,935.8 L425.9,936.3 L428.9,936.8 L431.9,937.3 L434.9,937.9 L437.9,938.5 L440.9,939 L443.9,939.6 L446.9,940.2 L449.9,940.7 L452.9,941.3 L455.9,941.8 L458.9,942.3 L461.9,942.8 L465,943.4 L468,944 L471,944.7 L474,945.4 L477,946.2 L480,946.9 L483,947.7 L486,948.4 L489,949.1 L492,949.8 L495,950.5 L498,951.2 L501,951.8 L504,952.5 L507,953 L510,953.5 L513,953.8 L516,954 L519,954.2 L522,954.3 L525,954.4 L528,954.4 L531,954.2 L534,953.8 L537,953.4 L540.1,953 L543.1,952.5 L546.1,952 L549.1,951.5 L552.1,950.9 L555.1,950.3 L558.1,949.6 L561.1,948.9 L564.1,948.1 L567.1,947.3 L570.1,946.4 L573.1,945.5 L576.1,944.5 L579.1,943.5 L582.1,942.4 L585.1,941.3 L588.1,940.2 L591.1,939.2 L594.1,938.1 L597.1,936.9 L600.1,935.7 L603.1,934.4 L606.1,932.9 L609.1,931.2 L612.2,929.1 L615.2,927 L618.2,924.8 L621.2,922.9 L624.2,921 L627.2,919.2 L630.2,917.3 L633.2,915.3 L636.2,913.2 L639.2,911.1 L642.2,908.8 L645.2,906.4 L648.2,903.9 L651.2,901.3 L654.2,898.5 L657.2,895.8 L660.2,893 L663.2,890.1 L666.2,886.7 L669.2,882.7 L672.2,878.1 L675.2,873.2 L678.2,868.4 L681.2,863.4 L684.3,858.2 L687.3,852.8 L690.3,847 L693.3,841 L696.3,834.4 L699.3,827 L702.3,818.7 L705.3,809.5 L708.3,799.4 L711.3,787.3 L714.3,773.8 L717.3,760.7 L720.3,748.2 L732.4,722 L747.7,970.5" stroke="#0000ff"/>
<path d="M134.5,930 L137.5,930.3 L140.5,930.5 L143.5,930.6 L146.5,930.6 L149.6,930.5 L152.6,930.2 L155.6,930 L158.6,930 L161.6,930.2 L164.6,930.3 L167.6,930.4 L170.6,930.3 L173.6,929.9 L176.7,929.6 L179.7,929.4 L182.7,929.5 L185.7,929.8 L188.7,930.2 L191.7,930.4 L194.7,930.7 L197.7,930.8 L200.7,931 L203.8,931 L206.8,930.6 L209.8,930.1 L212.8,929.6 L215.8,929.7 L218.8,929.9 L221.8,930.2 L224.8,930.5 L227.9,930.7 L230.9,930.8 L233.9,930.9 L236.9,931 L239.9,930.9 L242.9,930.7 L245.9,930.4 L248.9,930.2 L251.9,930.3 L255,930.5 L258,930.8 L261,931 L264,931 L267,930.8 L270,930.6 L273,930.4 L276,930.4 L279,930.6 L282.1,930.8 L285.1,931 L288.1,931.1 L291.1,931.2 L294.1,931.3 L297.1,931.4 L300.1,931.4 L303.1,931.4 L306.1,931.5 L309.2,931.5 L312.2,931.5 L315.2,931.5 L318.2,931.5 L321.2,931.5 L324.2,931.6 L327.2,931.6 L330.2,931.6 L333.2,931.8 L336.3,931.9 L339.3,932.1 L342.3,932.2 L345.3,932.4 L348.3,932.5 L351.3,932.6 L354.3,932.7 L357.3,932.8 L360.4,932.8 L363.4,932.9 L366.4,933 L369.4,933.2 L372.4,933.3 L375.4,933.6 L378.4,933.8 L381.4,934.1 L384.4,934.3 L387.5,934.6 L390.5,934.8 L393.5,935 L396.5,935.2 L399.5,935.4 L402.5,935.7 L405.5,935.9 L408.5,936.2 L411.5,936.5 L414.6,936.8 L417.6,937.1 L420.6,937.4 L423.6,937.8 L426.6,938.2 L429.6,938.6 L432.6,939 L435.6,939.4 L438.6,939.8 L441.7,940.2 L444.7,940.7 L447.7,941.2 L450.7,941.7 L453.7,942.2 L456.7,942.7 L459.7,943.2 L462.7,943.8 L465.7,944.4 L468.8,945 L471.8,945.6 L474.8,946.3 L477.8,947 L480.8,947.7 L483.8,948.3 L486.8,949 L489.8,949.5 L492.8,950.1 L495.9,950.7 L498.9,951.2 L501.9,951.8 L504.9,952.4 L507.9,953 L510.9,953.3 L513.9,953.4 L516.9,953.5 L520,953.5 L523,953.6 L526,953.6 L529,953.5 L532,953.2 L535,952.9 L538,952.4 L541,951.9 L544,951.3 L547.1,950.8 L550.1,950.3 L553.1,949.7 L556.1,949.1 L559.1,948.5 L562.1,947.8 L565.1,947 L568.1,946.2 L571.1,945.4 L574.2,944.5 L577.2,943.5 L580.2,942.5 L583.2,941.5 L586.2,940.4 L589.2,939.4 L592.2,938.3 L595.2,937.2 L598.2,936.1 L601.3,934.9 L604.3,933.6 L607.3,932.2 L610.3,930.6 L613.3,928.8 L616.3,927 L619.3,925.2 L622.3,923.4 L625.3,921.6 L628.4,919.7 L631.4,917.8 L634.4,915.7 L637.4,913.7 L640.4,911.5 L643.4,909.2 L646.4,906.9 L649.4,904.4 L652.5,901.9 L655.5,899.2 L658.5,896.4 L661.5,893.4 L664.5,890.3 L667.5,886.8 L670.5,883 L673.5,878.9 L676.5,874.5 L679.6,870 L682.6,865.2 L685.6,860.1 L688.6,854.8 L691.6,849.4 L694.6,843.6 L697.6,837.2 L700.6,830 L703.6,821.8 L706.7,812.7 L709.7,802.4 L712.7,790.6 L715.7,777 L718.7,762 L732.6,740.1 L744.2,880 L747.7,970.5" stroke="#ff0000"/>
<path d="M134.5,932.4 L137.5,932.2 L140.5,932.1 L143.5,932 L146.5,932 L149.5,932.1 L152.5,932.4 L155.5,932.6 L158.6,932.6 L161.6,932.5 L164.6,932.3 L167.6,932.2 L170.6,932.3 L173.6,932.5 L176.6,932.7 L179.6,932.8 L182.6,932.7 L185.6,932.6 L188.6,932.4 L191.6,932.4 L194.6,932.5 L197.6,932.7 L200.6,932.9 L203.7,933 L206.7,932.8 L209.7,932.6 L212.7,932.4 L215.7,932.4 L218.7,932.6 L221.7,932.8 L224.7,933 L227.7,933 L230.7,932.9 L233.7,932.7 L236.7,932.6 L239.7,932.6 L242.7,932.7 L245.7,932.8 L248.8,933 L251.8,933 L254.8,933.1 L257.8,933.2 L260.8,933.2 L263.8,933.2 L266.8,933.1 L269.8,932.9 L272.8,932.8 L275.8,932.8 L278.8,932.9 L281.8,933.1 L284.8,933.2 L287.8,933.2 L290.8,933.1 L293.8,933.1 L296.9,933 L299.9,933 L302.9,933 L305.9,933 L308.9,933.1 L311.9,933.1 L314.9,933.1 L317.9,933.2 L320.9,933.3 L323.9,933.3 L326.9,933.4 L329.9,933.4 L332.9,933.5 L335.9,933.6 L338.9,933.8 L342,933.9 L345,934 L348,934.1 L351,934.2 L354,934.3 L357,934.4 L360,934.6 L363,934.7 L366,934.8 L369,935 L372,935.1 L375,935.3 L378,935.5 L381,935.7 L384,935.9 L387.1,936.1 L390.1,936.3 L393.1,936.6 L396.1,936.8 L399.1,937 L402.1,937.3 L405.1,937.5 L408.1,937.7 L411.1,938 L414.1,938.3 L417.1,938.6 L420.1,938.8 L423.1,939.1 L426.1,939.4 L429.1,939.8 L432.2,940.1 L435.2,940.4 L438.2,940.8 L441.2,941.1 L444.2,941.5 L447.2,942 L450.2,942.4 L453.2,942.9 L456.2,943.3 L459.2,943.8 L462.2,944.3 L465.2,944.9 L468.2,945.4 L471.2,946 L474.2,946.7 L477.3,947.4 L480.3,948.1 L483.3,948.7 L486.3,949.2 L489.3,949.8 L492.3,950.2 L495.3,950.7 L498.3,951.1 L501.3,951.6 L504.3,952.3 L507.3,952.9 L510.3,953.2 L513.3,953.2 L516.3,953.1 L519.3,953 L522.4,952.8 L525.4,952.6 L528.4,952.4 L531.4,952.1 L534.4,951.8 L537.4,951.3 L540.4,950.9 L543.4,950.4 L546.4,949.9 L549.4,949.4 L552.4,948.9 L555.4,948.3 L558.4,947.7 L561.4,947.1 L564.4,946.4 L567.5,945.6 L570.5,944.8 L573.5,943.9 L576.5,943 L579.5,942 L582.5,941 L585.5,940 L588.5,939 L591.5,937.9 L594.5,936.9 L597.5,935.8 L600.5,934.6 L603.5,933.4 L606.5,932.2 L609.5,930.8 L612.5,929.3 L615.6,927.7 L618.6,926.1 L621.6,924.4 L624.6,922.8 L627.6,921.1 L630.6,919.2 L633.6,917.3 L636.6,915.2 L639.6,913.1 L642.6,910.8 L645.6,908.6 L648.6,906.2 L651.6,903.7 L654.6,901.1 L657.6,898.4 L660.7,895.5 L663.7,892.5 L666.7,889.2 L669.7,885.7 L672.7,882 L675.7,878.1 L678.7,873.9 L681.7,869.5 L684.7,864.9 L687.7,860 L690.7,854.6 L693.7,848.8 L696.7,842.5 L699.7,836 L702.7,829.1 L705.8,821.9 L708.8,814.1 L711.8,805.5 L714.8,795.5 L717.8,785 L720.8,775.2 L723.8,766.1 L726.8,757.4 L732.2,746.6 L747.6,970.5" stroke="#00c000"/>
<path d="M134.5,936.4 L137.5,936.6 L140.5,936.7 L143.5,936.8 L146.5,936.8 L149.5,936.7 L152.5,936.4 L155.5,936.2 L158.6,936.2 L161.6,936.5 L164.6,936.8 L167.6,937 L170.6,936.9 L173.6,936.7 L176.6,936.5 L179.6,936.4 L182.6,936.5 L185.6,936.6 L188.6,936.8 L191.6,936.8 L194.6,936.7 L197.6,936.6 L200.6,936.4 L203.7,936.4 L206.7,936.6 L209.7,936.8 L212.7,937 L215.7,937 L218.7,936.9 L221.7,936.7 L224.7,936.6 L227.7,936.6 L230.7,936.8 L233.7,937 L236.7,937.2 L239.7,937.2 L242.7,937.1 L245.7,936.9 L248.8,936.8 L251.8,936.8 L254.8,936.9 L257.8,937.1 L260.8,937.2 L263.8,937.2 L266.8,937.1 L269.8,936.9 L272.8,936.8 L275.8,936.8 L278.8,936.9 L281.8,936.9 L284.8,937 L287.8,937 L290.8,937 L293.8,937 L296.9,937 L299.9,937 L302.9,937 L305.9,937 L308.9,937 L311.9,937 L314.9,937 L317.9,937 L320.9,937 L323.9,937 L326.9,937 L329.9,937 L332.9,937.1 L335.9,937.1 L338.9,937.2 L342,937.3 L345,937.4 L348,937.5 L351,937.6 L354,937.7 L357,937.8 L360,937.8 L363,937.9 L366,938 L369,938.1 L372,938.3 L375,938.6 L378,938.8 L381,939.1 L384,939.3 L387.1,939.5 L390.1,939.7 L393.1,939.9 L396.1,940.1 L399.1,940.3 L402.1,940.4 L405.1,940.6 L408.1,940.8 L411.1,941 L414.1,941.2 L417.1,941.5 L420.1,941.7 L423.1,942 L426.1,942.2 L429.1,942.5 L432.2,942.8 L435.2,943.1 L438.2,943.4 L441.2,943.7 L444.2,944.1 L447.2,944.4 L450.2,944.8 L453.2,945.3 L456.2,945.7 L459.2,946.1 L462.2,946.5 L465.2,946.9 L468.2,947.3 L471.2,947.7 L474.2,948.1 L477.3,948.5 L480.3,948.9 L483.3,949.2 L486.3,949.6 L489.3,950 L492.3,950.4 L495.3,950.8 L498.3,951.2 L501.3,951.6 L504.3,952.2 L507.3,952.7 L510.3,953 L513.3,952.9 L516.3,952.7 L519.3,952.4 L522.4,952 L525.4,951.7 L528.4,951.3 L531.4,951 L534.4,950.6 L537.4,950.2 L540.4,949.8 L543.4,949.4 L546.4,948.9 L549.4,948.4 L552.4,947.9 L555.4,947.3 L558.4,946.7 L561.4,946.1 L564.4,945.4 L567.5,944.6 L570.5,943.8 L573.5,943 L576.5,942.1 L579.5,941.1 L582.5,940.1 L585.5,939.2 L588.5,938.2 L591.5,937.2 L594.5,936.2 L597.5,935.2 L600.5,934.1 L603.5,933 L606.5,931.8 L609.5,930.4 L612.5,928.9 L615.6,927.4 L618.6,925.8 L621.6,924.2 L624.6,922.7 L627.6,921.1 L630.6,919.5 L633.6,917.7 L636.6,915.6 L639.6,913.5 L642.6,911.2 L645.6,909 L648.6,906.6 L651.6,904.2 L654.6,901.6 L657.6,898.9 L660.7,896 L663.7,892.9 L666.7,889.7 L669.7,886.3 L672.7,882.6 L675.7,878.7 L678.7,874.7 L681.7,870.4 L684.7,865.9 L687.7,861 L690.7,855.7 L693.7,849.9 L696.7,843.7 L699.7,837.2 L702.7,830.5 L705.8,823.4 L708.8,815.9 L711.8,807.5 L714.8,797.8 L717.8,787.6 L720.8,777.9 L723.8,768.7 L726.8,759.8 L732.2,748.2 L747.3,970.5" stroke="#ff00ff"/>
</g>
<g stroke="#000" stroke-width="2.1" fill="none">
<rect x="134.5" y="34.5" width="664" height="634.4"/>
<rect x="134.5" y="733.4" width="664" height="236.6"/>
</g>
<g style="opacity:0.995">
<text transform="translate(117.22,679.15) scale(1.0780,1)" font-size="29.01" text-anchor="end">0</text>
<text transform="translate(117.22,599.86) scale(1.0780,1)" font-size="29.01" text-anchor="end">0.01</text>
<text transform="translate(117.22,520.56) scale(1.0780,1)" font-size="29.01" text-anchor="end">0.02</text>
<text transform="translate(117.22,441.27) scale(1.0780,1)" font-size="29.01" text-anchor="end">0.03</text>
<text transform="translate(117.22,361.98) scale(1.0780,1)" font-size="29.01" text-anchor="end">0.04</text>
<text transform="translate(117.22,282.68) scale(1.0780,1)" font-size="29.01" text-anchor="end">0.05</text>
<text transform="translate(117.22,203.39) scale(1.0780,1)" font-size="29.01" text-anchor="end">0.06</text>
<text transform="translate(117.22,124.09) scale(1.0780,1)" font-size="29.01" text-anchor="end">0.07</text>
<text transform="translate(117.22,44.80) scale(1.0780,1)" font-size="29.01" text-anchor="end">0.08</text>
<text transform="translate(117.22,980.30) scale(1.0780,1)" font-size="29.01" text-anchor="end">0.8</text>
<text transform="translate(117.22,932.98) scale(1.0780,1)" font-size="29.01" text-anchor="end">1</text>
<text transform="translate(117.22,885.66) scale(1.0780,1)" font-size="29.01" text-anchor="end">1.2</text>
<text transform="translate(117.22,838.34) scale(1.0780,1)" font-size="29.01" text-anchor="end">1.4</text>
<text transform="translate(117.22,791.02) scale(1.0780,1)" font-size="29.01" text-anchor="end">1.6</text>
<text transform="translate(117.22,743.70) scale(1.0780,1)" font-size="29.01" text-anchor="end">1.8</text>
<text transform="translate(134.50,711.75) scale(1.0780,1)" font-size="29.01" text-anchor="middle">0.002</text>
<text transform="translate(134.50,1012.95) scale(1.0780,1)" font-size="29.01" text-anchor="middle">0.002</text>
<text transform="translate(244.70,711.75) scale(1.0780,1)" font-size="29.01" text-anchor="middle">0.005</text>
<text transform="translate(244.70,1012.95) scale(1.0780,1)" font-size="29.01" text-anchor="middle">0.005</text>
<text transform="translate(328.06,711.75) scale(1.0780,1)" font-size="29.01" text-anchor="middle">0.01</text>
<text transform="translate(328.06,1012.95) scale(1.0780,1)" font-size="29.01" text-anchor="middle">0.01</text>
<text transform="translate(411.43,711.75) scale(1.0780,1)" font-size="29.01" text-anchor="middle">0.02</text>
<text transform="translate(411.43,1012.95) scale(1.0780,1)" font-size="29.01" text-anchor="middle">0.02</text>
<text transform="translate(539.50,711.75) scale(1.0780,1)" font-size="29.01" text-anchor="middle">0.05</text>
<text transform="translate(539.50,1012.95) scale(1.0780,1)" font-size="29.01" text-anchor="middle">0.05</text>
<text transform="translate(604.99,711.75) scale(1.0780,1)" font-size="29.01" text-anchor="middle">0.1</text>
<text transform="translate(604.99,1012.95) scale(1.0780,1)" font-size="29.01" text-anchor="middle">0.1</text>
<text transform="translate(688.35,711.75) scale(1.0780,1)" font-size="29.01" text-anchor="middle">0.2</text>
<text transform="translate(688.35,1012.95) scale(1.0780,1)" font-size="29.01" text-anchor="middle">0.2</text>
<text transform="translate(798.55,711.75) scale(1.0780,1)" font-size="29.01" text-anchor="middle">0.5</text>
<text transform="translate(798.55,1012.95) scale(1.0780,1)" font-size="29.01" text-anchor="middle">0.5</text>
</g>
<g style="opacity:0.995">
<text transform="translate(424.50,78.40) scale(1.0362,1)" font-size="29.01">TopSplitter (CMS)</text>
<text transform="translate(404.86,120.30) scale(1.0442,1)" font-size="29.01">mMDT+Y</text>
<text transform="translate(533.64,126.00) scale(1.0647,1)" font-size="23.21">m</text>
<text transform="translate(554.98,120.30) scale(1.1174,1)" font-size="29.01">-splitter</text>
<text transform="translate(455.48,162.00) scale(1.0197,1)" font-size="29.01">SD+Y</text>
<text transform="translate(533.64,167.70) scale(1.0647,1)" font-size="23.21">m</text>
<text transform="translate(554.98,162.00) scale(1.1174,1)" font-size="29.01">-splitter</text>
<text transform="translate(516.90,203.70) scale(0.8579,1)" font-size="29.01">Y</text>
<text transform="translate(533.64,209.40) scale(1.0647,1)" font-size="23.21">m</text>
<text transform="translate(554.98,203.70) scale(1.1174,1)" font-size="29.01">-splitter</text>
<text transform="translate(471.75,260.20) scale(0.9462,1)" font-size="29.01">z</text>
<text transform="translate(487.20,266.20) scale(1.0696,1)" font-size="23.21">cut</text>
<text transform="translate(522.67,260.20) scale(1.1271,1)" font-size="29.01">=0.05, ρ=0.00766</text>
<text transform="translate(548.30,308.00) scale(1.1499,1)" font-size="21.76">√s=13 TeV, p</text>
<text transform="translate(694.10,313.00) scale(1.0600,1)" font-size="17.41">t</text>
<text transform="translate(701.69,308.00) scale(1.1104,1)" font-size="21.76">=2 TeV</text>
<text transform="translate(161.49,577.40) scale(1.1051,1)" font-size="27.31">Solid:</text>
<text transform="translate(246.75,577.40) scale(0.9267,1)" font-size="27.31">P</text>
<text transform="translate(264.97,583.40) scale(1.0295,1)" font-size="22.33">13</text>
<text transform="translate(161.06,618.60) scale(1.1204,1)" font-size="27.31">Dashed:</text>
<text transform="translate(284.56,618.60) scale(0.9200,1)" font-size="27.31">P</text>
<text transform="translate(301.67,607.60) scale(0.9273,1)" font-size="22.33">2</text>
<text transform="translate(302.79,625.00) scale(1.0082,1)" font-size="22.33">12</text>
<text transform="translate(424.35,1061.30) scale(0.9533,1)" font-size="29.01">ρ</text>
<text transform="translate(441.93,1066.90) scale(1.0709,1)" font-size="23.21">min</text>
<text transform="translate(482.60,1061.30) scale(1.0517,1)" font-size="29.01">/ρ</text>
<text transform="translate(25.00,417.33) rotate(-90) scale(1.0273,1)" font-size="29.01">ρ/σ dσ/dρ</text>
<text transform="translate(42.40,958.48) rotate(-90) scale(1.0765,1)" font-size="29.01">ratio (P</text>
<text transform="translate(48.70,858.08) rotate(-90) scale(0.9789,1)" font-size="23.21">13</text>
<text transform="translate(42.40,832.00) rotate(-90) scale(1.0557,1)" font-size="29.01">)/(P</text>
<text transform="translate(31.80,782.76) rotate(-90) scale(0.9636,1)" font-size="23.21">2</text>
<text transform="translate(48.70,782.02) rotate(-90) scale(1.0165,1)" font-size="23.21">12</text>
<text transform="translate(42.40,752.80) rotate(-90) scale(0.8000,1)" font-size="29.01">)</text>
<text transform="translate(626.80,523.24) rotate(-90) scale(1.0385,1)" font-size="17.78">m</text>
<text transform="translate(631.00,506.20) rotate(-90) scale(1.0408,1)" font-size="14.22">min</text>
<text transform="translate(626.80,480.30) rotate(-90) scale(1.0145,1)" font-size="17.78">=50 GeV</text>
</g>
</svg></body></html>
